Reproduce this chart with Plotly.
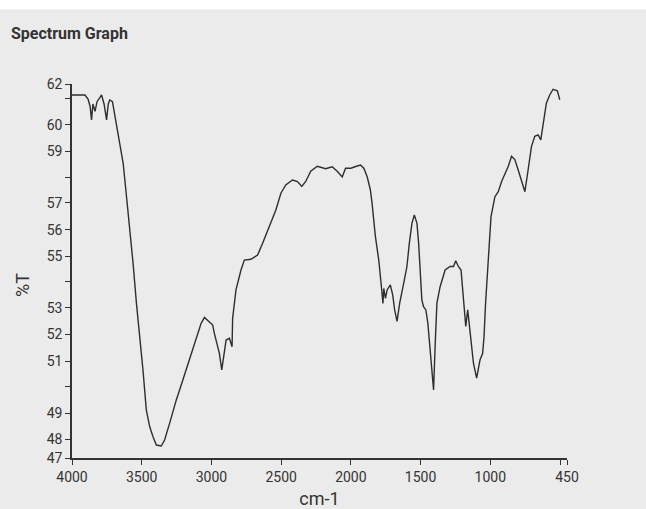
import plotly.graph_objects as go

# Wavenumber (cm-1) and transmittance (%T)
wavenumber = [4000, 3907, 3885, 3870, 3860, 3850, 3835, 3820, 3800, 3788, 3770, 3752, 3740, 3729,
              3710, 3681, 3657, 3633, 3609, 3586, 3562, 3538, 3514, 3491, 3467, 3443, 3419,
              3395, 3360, 3336, 3300, 3252, 3205, 3157, 3110, 3074, 3050, 3014, 2991, 2979,
              2955, 2943, 2926, 2912, 2895, 2871, 2852, 2848, 2824, 2788, 2764, 2717, 2669,
              2633, 2586, 2538, 2502, 2467, 2419, 2383, 2352, 2324, 2288, 2241, 2181, 2134,
              2098, 2062, 2038, 2000, 1960, 1931, 1907, 1883, 1860, 1848, 1824, 1800, 1781,
              1770, 1764, 1752, 1740, 1717, 1700, 1686, 1669, 1650, 1621, 1598, 1581, 1562,
              1545, 1526, 1514, 1502, 1491, 1479, 1462, 1448, 1431, 1407, 1395, 1383, 1360,
              1324, 1288, 1264, 1248, 1229, 1210, 1193, 1176, 1162, 1145, 1121, 1098, 1074,
              1055, 1045, 1034, 1014, 995, 967, 943, 919, 895, 871, 848, 824, 800, 776, 752,
              729, 705, 681, 657, 638, 621, 598, 574, 550, 519, 502]
transmittance = [61.56, 61.56, 61.4, 61.1, 60.56, 61.2, 60.9, 61.3, 61.45, 61.56, 61.2, 60.56,
                 61.2, 61.36, 61.29, 60.36, 59.62, 58.82, 57.48, 56.28, 54.81, 53.21, 51.87,
                 50.53, 48.93, 48.26, 47.85, 47.52, 47.48, 47.72, 48.39, 49.33, 50.13, 50.93,
                 51.73, 52.4, 52.64, 52.47, 52.33, 52.0, 51.46, 51.2, 50.53, 51.06, 51.73, 51.8,
                 51.46, 52.6, 53.74, 54.54, 54.94, 54.97, 55.14, 55.61, 56.28, 56.95, 57.62,
                 57.95, 58.15, 58.09, 57.89, 58.09, 58.5, 58.7, 58.6, 58.68, 58.5, 58.27, 58.62,
                 58.62, 58.7, 58.75, 58.62, 58.28, 57.75, 57.21, 55.88, 54.94, 53.87, 53.2,
                 53.8, 53.4, 53.74, 53.94, 53.54, 52.94, 52.48, 53.21, 54.01, 54.68, 55.61,
                 56.41, 56.75, 56.41, 55.61, 54.54, 53.34, 53.07, 52.94, 52.41, 51.33, 49.73,
                 51.6, 53.21, 53.87, 54.54, 54.68, 54.68, 54.91, 54.68, 54.54, 53.21, 52.28,
                 52.94, 52.0, 50.8, 50.2, 50.93, 51.2, 51.87, 53.21, 55.21, 56.68, 57.48, 57.68,
                 58.09, 58.42, 58.7, 59.1, 58.97, 58.55, 58.15, 57.68, 58.55, 59.49, 59.9,
                 59.96, 59.76, 60.43, 61.23, 61.56, 61.79, 61.73, 61.37]

# Axis ticks
x_tickvals = [4000, 3500, 3000, 2500, 2000, 1500, 1000, 500, 450]
x_ticktext = ["4000", "3500", "3000", "2500", "2000", "1500", "1000", "", "450"]
y_tickvals = [47, 47.76, 48.8, 49.85, 50.89, 51.97, 53.02, 54.06, 55.1, 56.15, 57.23,
              58.27, 59.31, 60.36, 61.4, 62]
y_ticktext = ["47", "48", "49", "", "51", "52", "53", "", "55", "56", "57", "",
              "59", "60", "", "62"]

font_stack = "Roboto, Liberation Sans Narrow, sans-serif"
ink = "#333333"

fig = go.Figure()
fig.add_trace(go.Scatter(
    x=wavenumber, y=transmittance, mode="lines",
    line=dict(color="#2e2e2e", width=1.4),
    showlegend=False, hoverinfo="skip",
))

fig.update_layout(
    width=646, height=509,
    margin=dict(l=72, r=79, t=84, b=51),
    paper_bgcolor="#ebebeb",
    plot_bgcolor="#ebebeb",
    title=dict(text="<b>Spectrum Graph</b>", x=0.017, xanchor="left", y=0.935, yanchor="middle",
               font=dict(family="Roboto, Arial, sans-serif", size=16, color=ink)),
    xaxis=dict(
        range=[4000, 450], tickmode="array", tickvals=x_tickvals, ticktext=x_ticktext,
        showgrid=False, zeroline=False, showline=True, linecolor=ink, linewidth=1.5,
        ticks="outside", ticklen=5, tickcolor=ink, automargin=False,
        tickfont=dict(family=font_stack, size=14, color=ink),
        title=dict(text="cm-1", font=dict(family=font_stack, size=18, color=ink), standoff=14),
    ),
    yaxis=dict(
        range=[47, 62], tickmode="array", tickvals=y_tickvals, ticktext=y_ticktext,
        showgrid=False, zeroline=False, showline=True, linecolor=ink, linewidth=1.5,
        ticks="outside", ticklen=5, tickcolor=ink, automargin=False,
        tickfont=dict(family=font_stack, size=14, color=ink),
    ),
    annotations=[dict(text="%T", xref="paper", yref="paper", x=-0.099, y=0.4626,
                      textangle=-90, showarrow=False, xanchor="center", yanchor="middle",
                      font=dict(family=font_stack, size=18, color=ink))],
    shapes=[dict(type="rect", xref="paper", yref="paper", x0=-0.2, x1=1.2, y0=1.2, y1=1.3,
                 fillcolor="white", line=dict(width=0), layer="below")],
)

fig.write_html("out.html", config={"displayModeBar": False},
               post_script="document.body.style.margin='0px';")
